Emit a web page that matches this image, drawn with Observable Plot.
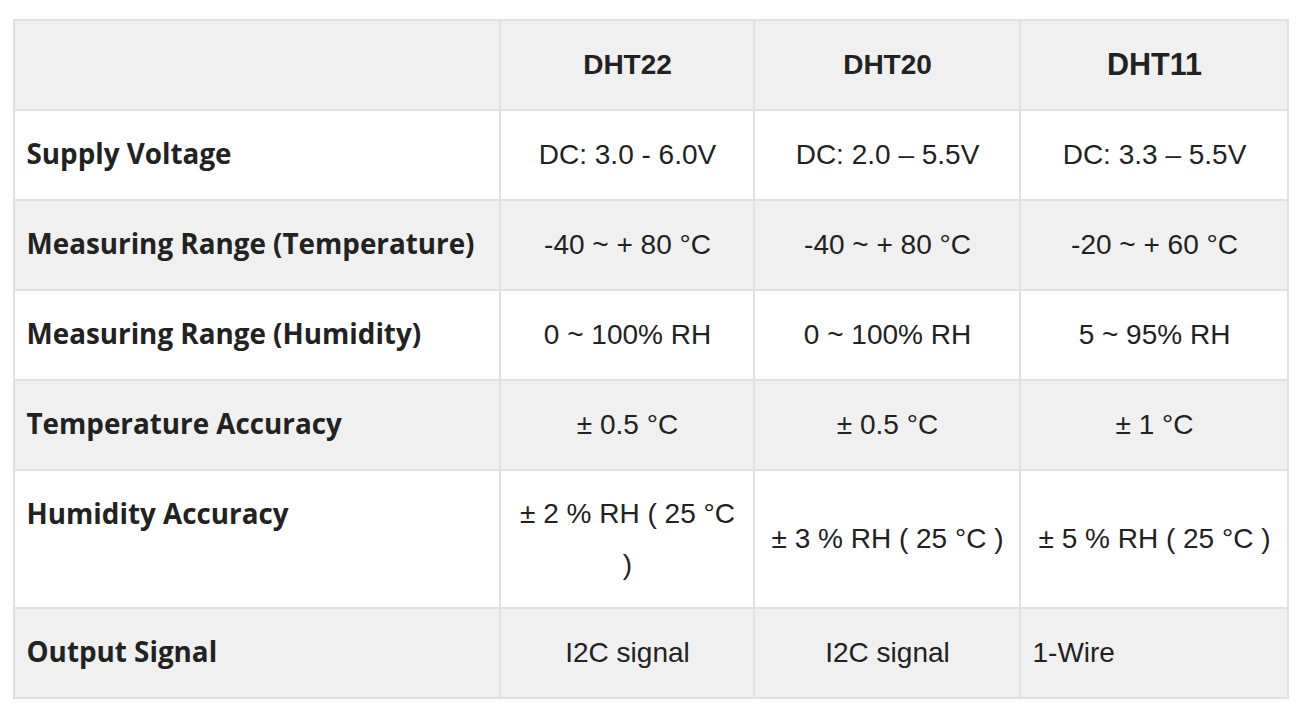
<!DOCTYPE html>
<html>
<head>
<meta charset="utf-8">
<script src="https://cdn.jsdelivr.net/npm/d3@7"></script>
<script src="https://cdn.jsdelivr.net/npm/@observablehq/plot@0.6"></script>
<style>
  html, body { margin: 0; padding: 0; background: #fff; }
</style>
</head>
<body>
<div id="chart"></div>
<script>
// ---- data ----
const sensors = ["DHT22", "DHT20", "DHT11"];
const parameters = [
  "Supply Voltage",
  "Measuring Range (Temperature)",
  "Measuring Range (Humidity)",
  "Temperature Accuracy",
  "Humidity Accuracy",
  "Output Signal"
];
const dht22 = ["DC: 3.0 - 6.0V", "-40 ~ + 80 °C", "0 ~ 100% RH", "± 0.5 °C", "± 2 % RH ( 25 °C )", "I2C signal"];
const dht20 = ["DC: 2.0 – 5.5V", "-40 ~ + 80 °C", "0 ~ 100% RH", "± 0.5 °C", "± 3 % RH ( 25 °C )", "I2C signal"];
const dht11 = ["DC: 3.3 – 5.5V", "-20 ~ + 60 °C", "5 ~ 95% RH", "± 1 °C", "± 5 % RH ( 25 °C )", "1-Wire"];
const values = [dht22, dht20, dht11];

// ---- layout (not data) ----
const colWidths = [486, 254, 266, 268];
const rowHeights = [90, 90, 90, 90, 90, 138, 90];
const tableLeft = 14, tableTop = 20;
const pad = 12;
const lineWidths = [8, 9.5, 9.5];
const leftAligned = new Set(["DHT11|Output Signal"]);
const gray = "#f0f0f0", border = "#e1e1e1", ink = "#222";
const valueSize = 28, valueLineHeight = 1.79;

const cumX = [0, ...d3.cumsum(colWidths)];
const cumY = [0, ...d3.cumsum(rowHeights)];
const totalW = cumX[cumX.length - 1], totalH = cumY[cumY.length - 1];

const cells = [];
for (let r = 0; r < rowHeights.length; r++) {
  for (let c = 0; c < colWidths.length; c++) {
    cells.push({x1: cumX[c], x2: cumX[c + 1], y1: cumY[r], y2: cumY[r + 1], fill: r % 2 === 0 ? gray : "#fff"});
  }
}

const headerCells = sensors.map((s, i) => ({
  text: s, x: (cumX[i + 1] + cumX[i + 2]) / 2, y: rowHeights[0] / 2, big: s === "DHT11"
}));
const labelCells = parameters.map((p, r) => ({
  text: p, x: pad, y: cumY[r + 1] + rowHeights[0] / 2
}));
const valueCells = [];
sensors.forEach((s, i) => {
  values[i].forEach((v, r) => {
    const left = leftAligned.has(s + "|" + parameters[r]);
    valueCells.push({
      text: v, col: i, left,
      x: left ? cumX[i + 1] + pad : (cumX[i + 1] + cumX[i + 2]) / 2,
      y: (cumY[r + 1] + cumY[r + 2]) / 2
    });
  });
});

// compensate Plot's baseline offset being scaled by lineHeight
const valueDy = -(valueLineHeight - 1) * 0.32 * valueSize;
const valueFont = {
  fontFamily: "'Liberation Sans', Arial, Helvetica, sans-serif",
  fontSize: valueSize, fill: ink, lineHeight: valueLineHeight, lineAnchor: "middle", dy: valueDy
};

const marks = [
  Plot.rect(cells, {x1: "x1", x2: "x2", y1: "y1", y2: "y2", fill: "fill", stroke: border, strokeWidth: 2}),
  Plot.text(headerCells.filter(d => !d.big), {x: "x", y: "y", text: "text", fontFamily: "'Liberation Sans', Arial, sans-serif", fontWeight: "bold", fontSize: 28, fill: ink, textAnchor: "middle", lineAnchor: "middle"}),
  Plot.text(headerCells.filter(d => d.big), {x: "x", y: "y", text: "text", fontFamily: "'Liberation Sans', Arial, sans-serif", fontWeight: "bold", fontSize: 30.5, fill: ink, textAnchor: "middle", lineAnchor: "middle"}),
  Plot.text(labelCells, {x: "x", y: "y", text: "text", fontFamily: "'Open Sans', sans-serif", fontWeight: "bold", fontSize: 27.8, fill: ink, textAnchor: "start", lineAnchor: "middle"}),
  ...sensors.map((s, i) => Plot.text(valueCells.filter(d => d.col === i && !d.left), {x: "x", y: "y", text: "text", textAnchor: "middle", lineWidth: lineWidths[i], ...valueFont})),
  Plot.text(valueCells.filter(d => d.left), {x: "x", y: "y", text: "text", textAnchor: "start", ...valueFont})
];

const chart = Plot.plot({
  width: 1312,
  height: 716,
  margin: 0,
  style: {background: "#fff"},
  x: {domain: [0, totalW], range: [tableLeft, tableLeft + totalW], axis: null},
  y: {domain: [0, totalH], range: [tableTop, tableTop + totalH], axis: null},
  marks
});
document.getElementById("chart").append(chart);
</script>
</body>
</html>
